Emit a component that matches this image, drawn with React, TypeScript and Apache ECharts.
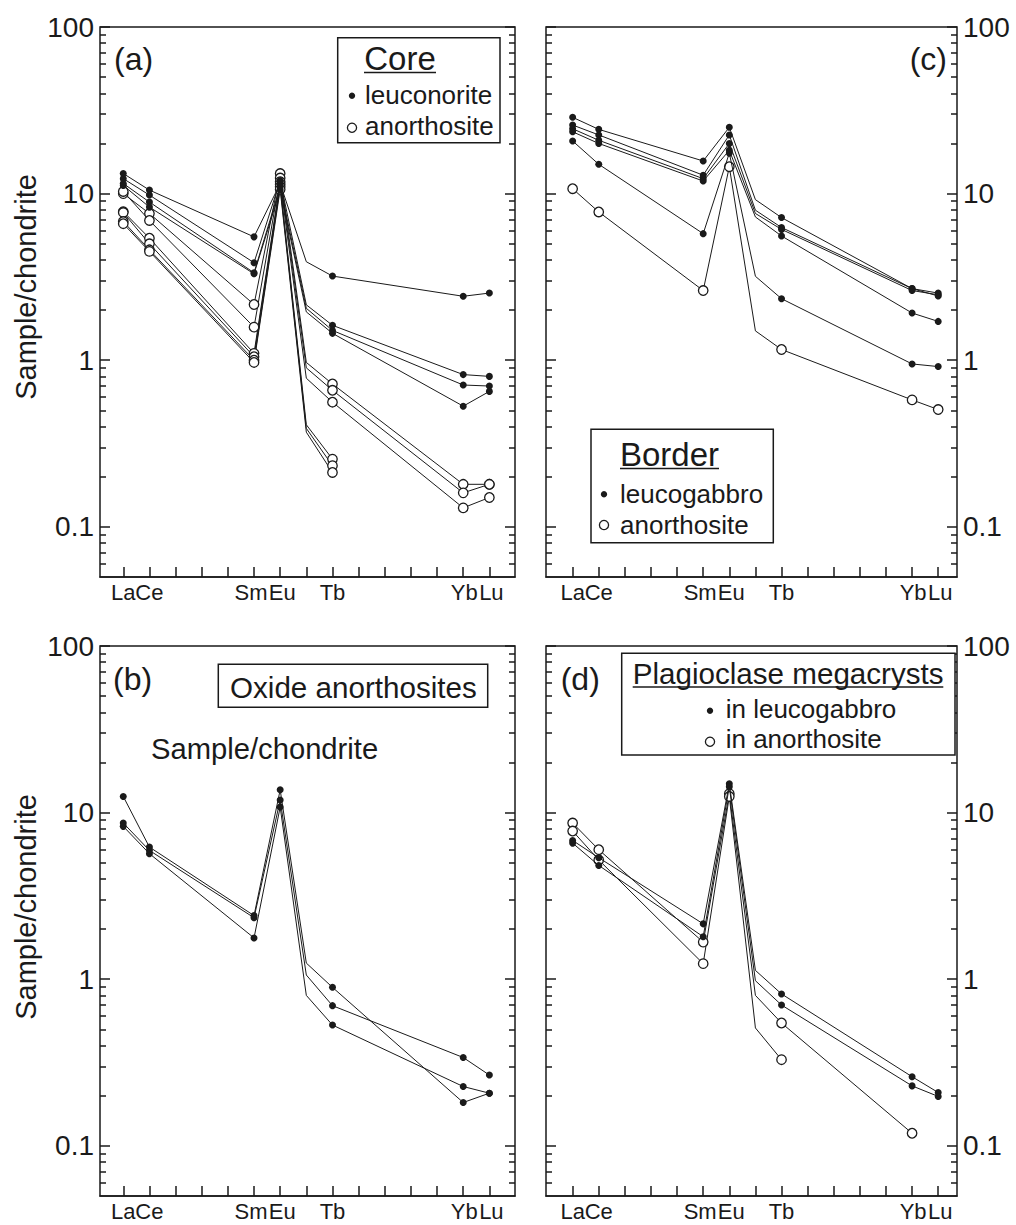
import React, { useEffect, useRef } from "react";
import * as echarts from "echarts";

// Rare-earth element profiles, normalised to chondrite.
const elementSymbols = ["La", "Ce", "Sm", "Eu", "Gd", "Tb", "Yb", "Lu"];
const atomicNumbers = [57, 58, 62, 63, 64, 65, 70, 71];

// Axis ticks and labels
const tickPositions = [57, 58, 59, 60, 61, 62, 63, 64, 65, 66, 67, 68, 69, 70, 71];
const labelPositions = [57, 58, 62, 63, 65, 70, 71];
const labelledElements = ["La", "Ce", "Sm", "Eu", "Tb", "Yb", "Lu"];
const yMajorValues = [0.1, 1, 10, 100];
const yMajorLabels = ["0.1", "1", "10", "100"];
const yMinorValues = [
  0.06, 0.07, 0.08, 0.09,
  0.2, 0.3, 0.4, 0.5, 0.6, 0.7, 0.8, 0.9,
  2, 3, 4, 5, 6, 7, 8, 9,
  20, 30, 40, 50, 60, 70, 80, 90,
];

// (a) Core — each row: La, Ce, Sm, Eu, Gd, Tb, Yb, Lu
const coreLeuconorite = [
  [13.2, 10.5, 5.5, 11.5, 3.9, 3.2, 2.42, 2.53],
  [12.3, 9.8, 3.85, 12.0, 2.15, 1.62, 0.82, 0.8],
  [11.5, 8.9, 3.35, 11.0, 2.05, 1.51, 0.71, 0.7],
  [11.2, 8.3, 3.3, 10.5, 1.95, 1.45, 0.53, 0.65],
];
const coreAnorthosite = [
  [10.0, 7.6, 2.16, 13.2, 0.97, 0.72, 0.18, 0.18],
  [10.3, 6.9, 1.58, 12.4, 0.9, 0.66, 0.16, 0.18],
  [7.8, 5.4, 1.1, 11.8, 0.78, 0.56, 0.13, 0.15],
  [7.7, 5.0, 1.05, 11.4, 0.41, 0.255],
  [6.8, 4.6, 1.0, 11.0, 0.39, 0.233],
  [6.6, 4.5, 0.97, 10.6, 0.37, 0.212],
];

// (b) Oxide anorthosites
const oxideAnorthosite = [
  [12.5, 6.21, 2.41, 13.7, 1.25, 0.894, 0.182, 0.207],
  [8.66, 5.93, 2.34, 11.9, 1.06, 0.694, 0.339, 0.266],
  [8.27, 5.67, 1.77, 10.8, 0.8, 0.531, 0.227, 0.207],
];

// (c) Border
const borderLeucogabbro = [
  [28.7, 24.3, 15.7, 25.0, 9.2, 7.18, 2.69, 2.53],
  [25.8, 22.5, 12.9, 22.5, 7.95, 6.26, 2.69, 2.43],
  [24.5, 20.9, 12.3, 20.0, 7.6, 6.1, 2.62, 2.47],
  [23.5, 20.0, 11.9, 18.2, 7.24, 5.57, 1.92, 1.71],
  [20.7, 15.0, 5.75, 17.5, 3.19, 2.34, 0.95, 0.916],
];
const borderAnorthosite = [
  [10.7, 7.76, 2.62, 14.5, 1.5, 1.16, 0.578, 0.506],
];

// (d) Plagioclase megacrysts
const megacrystLeucogabbro = [
  [6.81, 5.36, 2.15, 14.9, 1.13, 0.816, 0.26, 0.209],
  [6.56, 4.82, 1.8, 14.3, 0.98, 0.7, 0.229, 0.198],
];
const megacrystAnorthosite = [
  [8.66, 5.99, 1.67, 13.0, 0.8, 0.546, 0.119],
  [7.75, 5.2, 1.24, 12.5, 0.51, 0.329],
];

const INK = "#1a1a1a";
const FONT = "'Liberation Sans', Arial, Helvetica, sans-serif";
const LOG_MIN = Math.log10(0.05);

type Group = { rows: number[][]; filled: boolean };
type Panel = {
  box: { left: number; top: number; width: number; height: number };
  xMin: number;
  xMax: number;
  labelSide: "left" | "right";
  groups: Group[];
};

const panels: Panel[] = [
  {
    box: { left: 100, top: 27, width: 415, height: 550 },
    xMin: 56.11, xMax: 71.98, labelSide: "left",
    groups: [{ rows: coreLeuconorite, filled: true }, { rows: coreAnorthosite, filled: false }],
  },
  {
    box: { left: 100, top: 646, width: 415, height: 550 },
    xMin: 56.11, xMax: 71.98, labelSide: "left",
    groups: [{ rows: oxideAnorthosite, filled: true }],
  },
  {
    box: { left: 546, top: 27, width: 411, height: 550 },
    xMin: 55.98, xMax: 71.72, labelSide: "right",
    groups: [{ rows: borderLeucogabbro, filled: true }, { rows: borderAnorthosite, filled: false }],
  },
  {
    box: { left: 546, top: 646, width: 411, height: 550 },
    xMin: 55.98, xMax: 71.72, labelSide: "right",
    groups: [{ rows: megacrystLeucogabbro, filled: true }, { rows: megacrystAnorthosite, filled: false }],
  },
];

function profile(row: number[]) {
  return row.map((v, i) => {
    const item: any = { value: [atomicNumbers[i], v] };
    if (elementSymbols[i] === "Gd") item.symbol = "none";
    return item;
  });
}

function majorLabel(v: number) {
  const i = yMajorValues.findIndex((m) => Math.abs(Math.log10(m) - v) < 1e-6);
  return i >= 0 ? yMajorLabels[i] : "";
}

// element labels: neighbouring symbols are nudged apart so they do not collide
function elementLabel(v: number) {
  const i = labelPositions.indexOf(Math.round(Number(v)));
  if (i < 0) return "";
  const name = labelledElements[i];
  if (name === "Sm") return "{sm|Sm}";
  if (name === "Eu") return "{eu|Eu}";
  if (name === "Yb") return "{yb|Yb}";
  if (name === "Lu") return "{lu|Lu}";
  return name;
}

// text placed by its alphabetic baseline
function label(text: string, x: number, baseline: number, size: number, align = "left") {
  return {
    type: "text",
    x,
    y: baseline - 0.3465 * size,
    z: 110,
    silent: true,
    style: {
      text,
      fill: INK,
      fontSize: size,
      fontFamily: FONT,
      align,
      textAlign: align,
      verticalAlign: "middle",
      textVerticalAlign: "middle",
    },
  };
}

function dot(cx: number, cy: number, filled: boolean) {
  return {
    type: "circle",
    z: 110,
    silent: true,
    shape: { cx, cy, r: filled ? 3.2 : 4.6 },
    style: filled ? { fill: INK } : { fill: "#fff", stroke: INK, lineWidth: 1.3 },
  };
}

function frame(x: number, y: number, width: number, height: number) {
  return {
    type: "rect",
    z: 105,
    silent: true,
    shape: { x, y, width, height },
    style: { fill: "#fff", stroke: INK, lineWidth: 1.5 },
  };
}

function underline(x1: number, x2: number, y: number) {
  return {
    type: "line",
    z: 110,
    silent: true,
    shape: { x1, y1: y, x2, y2: y },
    style: { stroke: INK, lineWidth: 1.3 },
  };
}

function axisName(cy: number) {
  return {
    type: "text",
    x: 26,
    y: cy,
    rotation: Math.PI / 2,
    z: 110,
    silent: true,
    style: {
      text: "Sample/chondrite",
      fill: INK,
      fontSize: 29,
      fontFamily: FONT,
      align: "center",
      textAlign: "center",
      verticalAlign: "middle",
      textVerticalAlign: "middle",
    },
  };
}

function buildOption() {
  const grid: any[] = [];
  const xAxis: any[] = [];
  const yAxis: any[] = [];
  const series: any[] = [];
  const tickLine = { color: INK, width: 1.5 };
  const labelFont = { fontSize: 22, fontFamily: FONT, color: INK };

  panels.forEach((p, g) => {
    grid.push({ ...p.box, show: true, borderColor: INK, borderWidth: 1.5, backgroundColor: "transparent" });
    xAxis.push({
      type: "value",
      gridIndex: g,
      position: "bottom",
      min: p.xMin,
      max: p.xMax,
      axisLine: { show: true, onZero: false, lineStyle: { color: INK, width: 1.5 } },
      splitLine: { show: false },
      axisTick: { show: true, inside: true, length: 10, customValues: tickPositions, lineStyle: tickLine },
      axisLabel: {
        show: true,
        customValues: labelPositions,
        formatter: (v: number) => elementLabel(v),
        ...labelFont,
        margin: 4,
        hideOverlap: false,
        rich: {
          sm: { ...labelFont, padding: [0, 6, 0, 0] },
          eu: { ...labelFont, padding: [0, 0, 0, 4] },
          yb: { ...labelFont, padding: [0, 0, 0, 2] },
          lu: { ...labelFont, padding: [0, 0, 0, 4] },
        },
      },
    });
    const dataAxis = yAxis.length;
    yAxis.push({ type: "log", logBase: 10, gridIndex: g, min: 0.05, max: 100, show: false });
    (["left", "right"] as const).forEach((side) => {
      yAxis.push({
        type: "value",
        gridIndex: g,
        position: side,
        offset: 0,
        min: LOG_MIN,
        max: 2,
        axisLine: { show: false, onZero: false },
        splitLine: { show: false },
        axisTick: { show: true, inside: true, length: 10, customValues: yMajorValues.map(Math.log10), lineStyle: tickLine },
        axisLabel: {
          show: side === p.labelSide,
          customValues: yMajorValues.map(Math.log10),
          formatter: (v: number) => majorLabel(Number(v)),
          fontSize: 28,
          fontFamily: FONT,
          color: INK,
          margin: 6,
        },
      });
      yAxis.push({
        type: "value",
        gridIndex: g,
        position: side,
        offset: 0,
        min: LOG_MIN,
        max: 2,
        axisLine: { show: false, onZero: false },
        splitLine: { show: false },
        axisTick: { show: true, inside: true, length: 6, customValues: yMinorValues.map(Math.log10), lineStyle: tickLine },
        axisLabel: { show: false },
      });
    });

    p.groups.forEach((grp) => {
      grp.rows.forEach((row) => {
        series.push({
          type: "line",
          xAxisIndex: g,
          yAxisIndex: dataAxis,
          data: profile(row),
          symbol: "circle",
          symbolSize: grp.filled ? 7 : 9.5,
          showSymbol: true,
          itemStyle: grp.filled
            ? { color: INK }
            : { color: "#fff", borderColor: INK, borderWidth: 1.3 },
          lineStyle: { color: INK, width: 1 },
          silent: true,
          emphasis: { disabled: true },
          // filled dots sit on top of the open circles
          z: grp.filled ? 4 : 3,
        });
      });
    });
  });

  const graphic: any[] = [
    // (a) Core
    label("(a)", 114, 70, 32),
    frame(337.7, 37.7, 162.3, 105),
    label("Core", 400, 70, 33, "center"),
    underline(364, 436, 72.5),
    dot(352, 95.7, true),
    label("leuconorite", 365, 104, 26),
    dot(352, 127.7, false),
    label("anorthosite", 365, 135, 26),
    axisName(287),

    // (b) Oxide anorthosites
    label("(b)", 113, 690, 32),
    frame(218.3, 664.3, 269.4, 43),
    label("Oxide anorthosites", 230, 697.5, 29.6),
    label("Sample/chondrite", 151, 759.5, 29.2),
    axisName(907),

    // (c) Border
    label("(c)", 947, 70, 32, "right"),
    frame(591, 429.3, 182.3, 113.4),
    label("Border", 669.5, 466, 33, "center"),
    underline(620, 719, 468.5),
    dot(604, 494.3, true),
    label("leucogabbro", 620, 503, 26),
    dot(604, 525, false),
    label("anorthosite", 620, 534, 26),

    // (d) Plagioclase megacrysts
    label("(d)", 560.7, 690, 32),
    frame(621.7, 653.3, 333.3, 101.7),
    label("Plagioclase megacrysts", 632.7, 683.3, 29.6),
    underline(632.7, 943.3, 687),
    dot(710, 710.7, true),
    label("in leucogabbro", 725.7, 718.3, 26),
    dot(710, 741.7, false),
    label("in anorthosite", 725.7, 748.3, 26),
  ];

  return {
    animation: false,
    backgroundColor: "#fff",
    grid,
    xAxis,
    yAxis,
    series,
    graphic,
  };
}

const App = () => {
  const ref = useRef<HTMLDivElement>(null);
  useEffect(() => {
    if (!ref.current) return;
    const chart = echarts.init(ref.current, null, { renderer: "svg" });
    chart.setOption(buildOption() as any);
    return () => chart.dispose();
  }, []);
  return (
    <div
      ref={ref}
      style={{ position: "absolute", left: 0, top: 0, width: 1016, height: 1225, background: "#fff" }}
    />
  );
};

export default App;
